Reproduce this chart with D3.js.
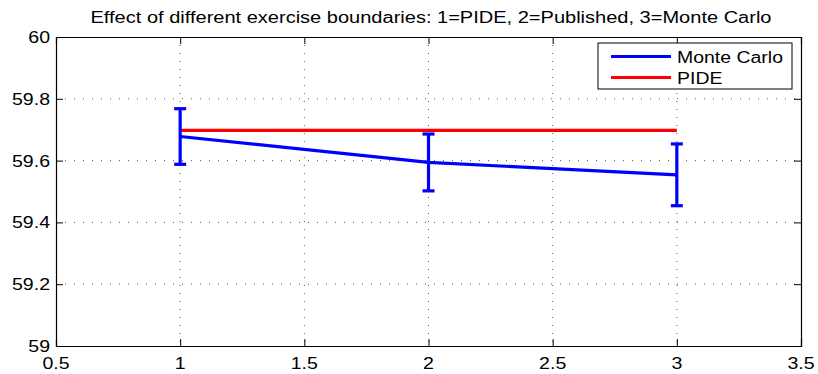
<!DOCTYPE html>
<html><head><meta charset="utf-8">
<script src="https://cdn.jsdelivr.net/npm/d3@7/dist/d3.min.js"></script>
<style>body{margin:0;background:#fff}svg{display:block}text{font-family:"Liberation Sans",Arial,sans-serif;fill:#000}</style>
</head><body><svg id="c" width="818" height="374"></svg>
<script>
const titleText = "Effect of different exercise boundaries: 1=PIDE, 2=Published, 3=Monte Carlo";
const xs = [1, 2, 3];
const mcMean = [59.678, 59.594, 59.554];
const mcErr = [0.09, 0.092, 0.1];
const pideVals = [59.698, 59.698, 59.698];
const xTicks = [0.5, 1, 1.5, 2, 2.5, 3, 3.5];
const yTicks = [59, 59.2, 59.4, 59.6, 59.8, 60];
const legendLabels = ["Monte Carlo", "PIDE"];
const colors = ["#0000ff", "#ff0000"];

const W = 818, H = 374;
const m = {l: 56, r: 17, t: 37, b: 28};
const svg = d3.select("#c");
const x = d3.scaleLinear().domain([0.5, 3.5]).range([m.l, W - m.r]);
const y = d3.scaleLinear().domain([59, 60]).range([H - m.b, m.t]);

function stext(g, px, py, str, size, anchor, sx) {
  return g.append("text").attr("transform", `translate(${px},${py}) scale(${sx},1)`)
    .attr("text-anchor", anchor).style("font-size", size + "px").text(str);
}

// grid
const grid = svg.append("g");
grid.selectAll("line.v").data(xTicks.slice(1, -1)).join("line")
  .attr("x1", d => x(d)).attr("x2", d => x(d)).attr("y1", m.t).attr("y2", H - m.b)
  .attr("stroke", "#555").attr("stroke-width", 1).attr("stroke-dasharray", "1,7");
grid.selectAll("line.h").data(yTicks.slice(1, -1)).join("line")
  .attr("y1", d => y(d)).attr("y2", d => y(d)).attr("x1", m.l).attr("x2", W - m.r)
  .attr("stroke", "#555").attr("stroke-width", 1).attr("stroke-dasharray", "1,8");

// axes with inward ticks
const tl = 7;
svg.append("g").attr("transform", `translate(0,${H - m.b})`)
  .call(d3.axisBottom(x).tickValues(xTicks).tickSize(-tl).tickFormat(""));
svg.append("g").attr("transform", `translate(0,${m.t})`)
  .call(d3.axisTop(x).tickValues(xTicks).tickSize(-tl).tickFormat(""));
svg.append("g").attr("transform", `translate(${m.l},0)`)
  .call(d3.axisLeft(y).tickValues(yTicks).tickSize(-tl).tickFormat(""));
svg.append("g").attr("transform", `translate(${W - m.r},0)`)
  .call(d3.axisRight(y).tickValues(yTicks).tickSize(-tl).tickFormat(""));
svg.selectAll(".domain").attr("stroke", "#000").attr("stroke-width", 1.2);
svg.selectAll(".tick line").attr("stroke", "#000");

// tick labels
const lab = svg.append("g");
xTicks.forEach(t => stext(lab, x(t), 369, String(t), 17, "middle", 1.15));
yTicks.forEach(t => stext(lab, 50, y(t) + 6, String(t), 17, "end", 1.15));

// title
svg.append("text").attr("x", 431).attr("y", 23)
  .attr("text-anchor", "middle").style("font-size", "16px").text(titleText)
  .attr("textLength", 681).attr("lengthAdjust", "spacingAndGlyphs");

// PIDE line
const line = d3.line().x(d => x(d[0])).y(d => y(d[1]));
svg.append("path").datum(xs.map((v, i) => [v, pideVals[i]])).attr("d", line)
  .attr("fill", "none").attr("stroke", colors[1]).attr("stroke-width", 3.2);

// Monte Carlo line + error bars
svg.append("path").datum(xs.map((v, i) => [v, mcMean[i]])).attr("d", line)
  .attr("fill", "none").attr("stroke", colors[0]).attr("stroke-width", 3.2);
const eb = svg.append("g").attr("stroke", colors[0]).attr("stroke-width", 3.2);
xs.forEach((v, i) => {
  const cx = x(v), top = y(mcMean[i] + mcErr[i]), bot = y(mcMean[i] - mcErr[i]);
  eb.append("line").attr("x1", cx).attr("x2", cx).attr("y1", top).attr("y2", bot);
  eb.append("line").attr("x1", cx - 6).attr("x2", cx + 6).attr("y1", top).attr("y2", top);
  eb.append("line").attr("x1", cx - 6).attr("x2", cx + 6).attr("y1", bot).attr("y2", bot);
});

// legend
const lg = svg.append("g");
lg.append("rect").attr("x", 598).attr("y", 43).attr("width", 194).attr("height", 46)
  .attr("fill", "#fff").attr("stroke", "#000").attr("stroke-width", 1);
legendLabels.forEach((s, i) => {
  const ly = 56.5 + i * 21;
  lg.append("line").attr("x1", 611).attr("x2", 671).attr("y1", ly).attr("y2", ly)
    .attr("stroke", colors[i]).attr("stroke-width", 3.2);
  stext(lg, 677, ly + 6, s, 16.5, "start", 1.18);
});
</script></body></html>
